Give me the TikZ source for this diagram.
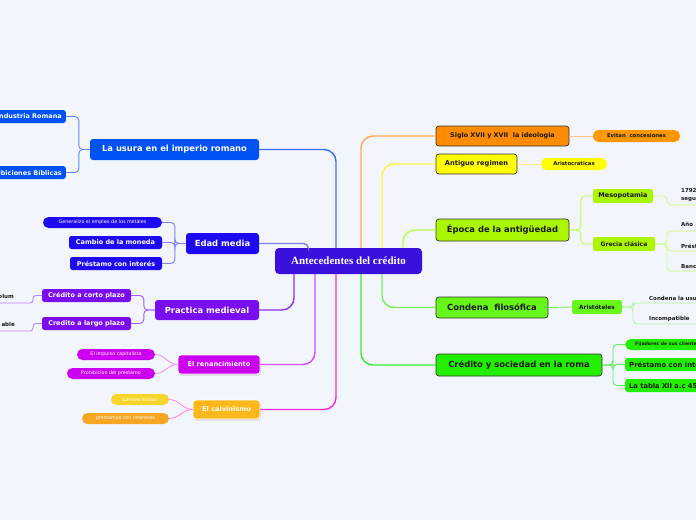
\documentclass[tikz,border=0pt]{standalone}
\usepackage{fontspec}
\setsansfont{DejaVu Sans}
\newfontfamily\titlefont{Liberation Serif}
\usetikzlibrary{shadows}
\newcommand{\fsz}[1]{\fontsize{#1}{#1}\selectfont}

\definecolor{bgcol}{HTML}{F3F5FD}
\definecolor{central}{HTML}{3A10DC}
\definecolor{usura}{HTML}{0052F5}
\definecolor{edad}{HTML}{1E0AF0}
\definecolor{medieval}{HTML}{7A0CF0}
\definecolor{renac}{HTML}{CC00F0}
\definecolor{calvin}{HTML}{FFB81C}
\definecolor{limites}{HTML}{F8D52A}
\definecolor{prestam}{HTML}{F6A623}
\definecolor{siglo}{HTML}{FF8C00}
\definecolor{evitan}{HTML}{FF9800}
\definecolor{antiguo}{HTML}{FFFF00}
\definecolor{epoca}{HTML}{AAF500}
\definecolor{condena}{HTML}{66F61A}
\definecolor{credito}{HTML}{22EE00}
\definecolor{usuraln}{HTML}{3A6CFF}
\definecolor{edadln}{HTML}{7F7FF5}
\definecolor{medievalln}{HTML}{8A30FF}
\definecolor{renacln}{HTML}{D84CFF}
\definecolor{calvinln}{HTML}{FF28D4}
\definecolor{sigloln}{HTML}{FFAA50}
\definecolor{antiguoln}{HTML}{FFF53A}
\definecolor{epocaln}{HTML}{BBFF40}
\definecolor{condenaln}{HTML}{77F055}
\definecolor{creditoln}{HTML}{33EE33}

\begin{document}
\begin{tikzpicture}[x=1pt,y=-1pt,
  main/.style={rounded corners=3pt, inner sep=0pt, text=white, font=\sffamily\bfseries\fsz{8.4}},
  sub/.style={rounded corners=2.5pt, inner sep=0pt, text=white, font=\sffamily\bfseries\fsz{6.5}},
  pill/.style={rounded corners=5.5pt, inner sep=0pt, text=white, font=\sffamily\fsz{4.8}},
  rmain/.style={main, draw=black!80, line width=0.7pt, text=black!90},
  rsub/.style={sub, text=black!90},
  leaf/.style={inner xsep=14pt, inner ysep=4pt, text=black!90, align=left,
    font=\sffamily\bfseries\fontsize{5.5}{8}\selectfont},
  shade/.style={draw=white, line width=0.8pt,
    drop shadow={opacity=0.25, shadow xshift=0.8pt, shadow yshift=-1.5pt}},
  link/.style={line width=1.4pt, rounded corners=12pt},
  twig/.style={line width=0.9pt, rounded corners=4pt}]

\useasboundingbox (0,0) rectangle (696,520);
\clip (0,0) rectangle (696,520);
\fill[bgcol] (0,0) rectangle (696,520);

\node[fill=central, rounded corners=4pt, minimum width=147pt, minimum height=26pt,
  text=white, font=\titlefont\bfseries\fsz{11}] (central) at (348.5,261) {Antecedentes del crédito};

% left side
\node[main, fill=usura, minimum width=169pt, minimum height=21pt] (usura) at (174.5,149.5) {La usura en el imperio romano};
\node[sub, fill=usura, anchor=east, inner xsep=4pt, minimum height=13pt] (industria) at (66,116.5) {Industria Romana};
\node[sub, fill=usura, anchor=east, inner xsep=4pt, minimum height=13pt] (biblicas) at (66,172.5) {Prohibiciones Bíblicas};

\node[main, fill=edad, minimum width=73pt, minimum height=21pt] (edad) at (222.5,243.5) {Edad media};
\node[pill, fill=edad, minimum width=119pt, minimum height=11pt] (metales) at (102.5,222.5) {Generalizo el empleo de los metales};
\node[sub, fill=edad, minimum width=93pt, minimum height=13pt] (cambio) at (115.5,242.5) {Cambio de la moneda};
\node[sub, fill=edad, minimum width=92pt, minimum height=13pt] (interes) at (116,263.5) {Préstamo con interés};

\node[main, fill=medieval, minimum width=104pt, minimum height=20pt] (practica) at (207,310) {Practica medieval};
\node[sub, fill=medieval, minimum width=89pt, minimum height=13pt] (corto) at (86.5,295.5) {Crédito a corto plazo};
\node[sub, fill=medieval, minimum width=89pt, minimum height=13pt] (largo) at (86.5,323.5) {Credito a largo plazo};
\node[leaf, anchor=south east, inner xsep=19pt] (olum) at (33,303) {olum};
\node[leaf, anchor=south east, inner xsep=18pt] (able) at (33,331) {able};

\node[main, shade, fill=renac, font=\sffamily\bfseries\fsz{6.6}, minimum width=82pt, minimum height=19pt] (renac) at (219,364.5) {El renancimiento};
\node[pill, fill=renac, minimum width=78pt, minimum height=11pt] (impulso) at (116,354.5) {El impulso capitalista};
\node[pill, fill=renac, minimum width=88pt, minimum height=11pt] (prohibicion) at (111,373.5) {Prohibicion del prestamo};

\node[main, shade, fill=calvin, font=\sffamily\bfseries\fsz{6.6}, minimum width=67pt, minimum height=19pt] (calvin) at (226.5,409.5) {El calvinismo};
\node[pill, fill=limites, minimum width=58pt, minimum height=11pt] (limites) at (140,399.5) {Limites ilícitos};
\node[pill, fill=prestam, minimum width=87pt, minimum height=11pt] (intereses) at (125.5,418.5) {prestamos con intereses};

% right side
\node[rmain, fill=siglo, font=\sffamily\bfseries\fsz{6.4}, minimum width=133pt, minimum height=20pt] (siglo) at (502.5,136) {Siglo XVII y XVII\ \ la ideologia};
\node[pill, fill=evitan, text=black!90, font=\sffamily\bfseries\fsz{5.3}, minimum width=87pt, minimum height=12pt] (evitan) at (636.5,136) {Evitan\ \ concesiones};
\node[rmain, fill=antiguo, font=\sffamily\bfseries\fsz{6.7}, minimum width=81pt, minimum height=20pt] (antiguo) at (476.5,164) {Antiguo regimen};
\node[pill, fill=antiguo, text=black!90, font=\sffamily\bfseries\fsz{5.3}, minimum width=66pt, minimum height=12pt] (aristocraticas) at (574,164) {Aristocraticas};

\node[rmain, fill=epoca, minimum width=133pt, minimum height=22pt] (epoca) at (502.5,230) {Época de la antigüedad};
\node[rsub, fill=epoca, minimum width=60pt, minimum height=14pt] (meso) at (623,196) {Mesopotamia};
\node[rsub, fill=epoca, font=\sffamily\bfseries\fsz{6}, minimum width=62pt, minimum height=14pt] (grecia) at (624,244) {Grecia clásica};
\node[leaf, anchor=south west, inner ysep=3pt] (hammurabi) at (667,205) {1792 a.C.\\seguridad};
\node[leaf, anchor=south west] (anio) at (667,231) {Año};
\node[leaf, anchor=south west, inner ysep=2.5pt] (prestamo) at (667,251) {Préstamo};
\node[leaf, anchor=south west, inner ysep=2.5pt] (banca) at (667,271) {Banca};

\node[rmain, fill=condena, minimum width=112pt, minimum height=21pt] (condena) at (492,307.5) {Condena\ \ filosófica};
\node[rsub, fill=condena, font=\sffamily\bfseries\fsz{5.8}, minimum width=50pt, minimum height=14pt] (aristoteles) at (597,307) {Aristóteles};
\node[leaf, anchor=south west, inner xsep=16pt, inner ysep=2.5pt] (condusura) at (633,303) {Condena la usura};
\node[leaf, anchor=south west, inner xsep=16pt, inner ysep=2.5pt] (incompatible) at (633,324) {Incompatible};

\node[rmain, fill=credito, minimum width=166pt, minimum height=22pt] (credito) at (519,365) {Crédito y sociedad en la roma};
\node[pill, fill=credito, text=black!90, font=\sffamily\bfseries\fsz{4.6}, anchor=west, inner xsep=10pt, minimum height=11pt] (fijadores) at (625,344.5) {Fijadores de sus clientes};
\node[sub, fill=credito, text=black!90, font=\sffamily\bfseries\fsz{6.9}, anchor=west, inner xsep=4pt, minimum height=13pt] (prestcon) at (625,364.5) {Préstamo con interés};
\node[sub, fill=credito, text=black!90, font=\sffamily\bfseries\fsz{6.7}, anchor=west, inner xsep=4pt, minimum height=13pt] (tabla) at (625,385.5) {La tabla XII a.c 450};

% main links
\draw[link, usuraln] (usura.east) -| ([xshift=-12.5pt]central.north);
\draw[link, edadln, rounded corners=5pt] (edad.east) -| ([xshift=-40pt]central.north);
\draw[link, medievalln] (practica.east) -| ([xshift=-54.5pt]central.south);
\draw[link, renacln] (renac.east) -| ([xshift=-33.5pt]central.south);
\draw[link, calvinln] (calvin.east) -| ([xshift=-12.5pt]central.south);
\draw[link, sigloln] ([xshift=12.5pt]central.north) |- (siglo.west);
\draw[link, antiguoln] ([xshift=33.5pt]central.north) |- (antiguo.west);
\draw[link, epocaln] ([xshift=54.5pt]central.north) |- (epoca.west);
\draw[link, condenaln] ([xshift=33.5pt]central.south) |- (condena.west);
\draw[link, creditoln] ([xshift=12.5pt]central.south) |- (credito.west);

% twigs
\draw[twig, usuraln!80] (industria.east) -| ([xshift=-11pt]usura.west) -- (usura.west);
\draw[twig, usuraln!80] (biblicas.east) -| ([xshift=-11pt]usura.west) -- (usura.west);
\draw[twig, edadln] (metales.east) -| ([xshift=-11pt]edad.west) -- (edad.west);
\draw[twig, edadln] (cambio.east) -| ([xshift=-11pt]edad.west) -- (edad.west);
\draw[twig, edadln] (interes.east) -| ([xshift=-11pt]edad.west) -- (edad.west);
\draw[twig, medievalln!80] (corto.east) -| ([xshift=-11pt]practica.west) -- (practica.west);
\draw[twig, medievalln!80] (largo.east) -| ([xshift=-11pt]practica.west) -- (practica.west);
\draw[twig, medievalln!60, rounded corners=3pt] (corto.west) -| (olum.south east) -- (olum.south west);
\draw[twig, medievalln!60, rounded corners=3pt] (largo.west) -| (able.south east) -- (able.south west);
\draw[twig, renacln!60] (impulso.east) to[out=0,in=180] (renac.west);
\draw[twig, renacln!60] (prohibicion.east) to[out=0,in=180] (renac.west);
\draw[twig, calvinln!55] (limites.east) to[out=0,in=180] (calvin.west);
\draw[twig, calvinln!55] (intereses.east) to[out=0,in=180] (calvin.west);

\draw[twig, sigloln!70] (siglo.east) -- (evitan.west);
\draw[twig, antiguoln!80!orange!60] (antiguo.east) -- (aristocraticas.west);
\draw[twig, epocaln] (epoca.east) -| ([xshift=-12pt]meso.west) -- (meso.west);
\draw[twig, epocaln] (epoca.east) -| ([xshift=-12pt]grecia.west) -- (grecia.west);
\draw[twig, epocaln!70] (meso.east) -| (hammurabi.south west) -- (hammurabi.south east);
\draw[twig, epocaln!70] (grecia.east) -| (anio.south west) -- (anio.south east);
\draw[twig, epocaln!70] (grecia.east) -| (prestamo.south west) -- (prestamo.south east);
\draw[twig, epocaln!70] (grecia.east) -| (banca.south west) -- (banca.south east);
\draw[twig, condenaln] (condena.east) -- (aristoteles.west);
\draw[twig, condenaln!60] (aristoteles.east) -| (condusura.south west) -- (condusura.south east);
\draw[twig, condenaln!60] (aristoteles.east) -| (incompatible.south west) -- (incompatible.south east);
\draw[twig, creditoln!80] (credito.east) -| ([xshift=-12pt]fijadores.west) -- (fijadores.west);
\draw[twig, creditoln!80] (credito.east) -| ([xshift=-12pt]prestcon.west) -- (prestcon.west);
\draw[twig, creditoln!80] (credito.east) -| ([xshift=-12pt]tabla.west) -- (tabla.west);
\end{tikzpicture}
\end{document}
